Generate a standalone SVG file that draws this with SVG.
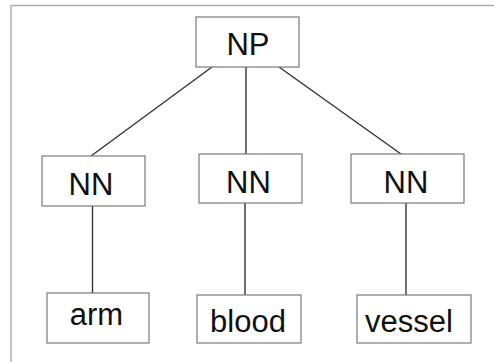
<svg xmlns="http://www.w3.org/2000/svg" width="494" height="362" viewBox="0 0 494 362">
  <style>
    .frame { fill: none; stroke: #b0b0b0; stroke-width: 1.5; }
    .box { fill: #ffffff; stroke: #7a7a7a; stroke-width: 1.2; }
    .label { font-family: "Liberation Sans", Arial, sans-serif; font-size: 31px; fill: #111; text-anchor: middle; }
    .edge { stroke: #333; stroke-width: 1.4; fill: none; }
  </style>
  <rect width="494" height="362" fill="#ffffff"/>
  <!-- open frame: top and left sides only -->
  <path class="frame" d="M11,362 V5.5 H494"/>

  <g id="connectors">
    <line class="edge" x1="212" y1="67" x2="91" y2="156"/>
    <line class="edge" x1="246" y1="67" x2="246" y2="154"/>
    <line class="edge" x1="279" y1="67" x2="401" y2="154"/>
    <line class="edge" x1="92.5" y1="206" x2="92.5" y2="293"/>
    <line class="edge" x1="245" y1="203" x2="245" y2="295"/>
    <line class="edge" x1="406" y1="203" x2="406" y2="295"/>
  </g>

  <g id="np">
    <rect class="box" x="196" y="17" width="103" height="50"/>
    <text class="label" x="248" y="55">NP</text>
  </g>
  <g id="nn-arm">
    <rect class="box" x="42" y="156" width="103" height="50"/>
    <text class="label" x="91" y="195">NN</text>
  </g>
  <g id="nn-blood">
    <rect class="box" x="199" y="154" width="103" height="49"/>
    <text class="label" x="248.5" y="193">NN</text>
  </g>
  <g id="nn-vessel">
    <rect class="box" x="351" y="154" width="113" height="49"/>
    <text class="label" x="406" y="193">NN</text>
  </g>
  <g id="arm">
    <rect class="box" x="47" y="293" width="102" height="50"/>
    <text class="label" x="96.5" y="325">arm</text>
  </g>
  <g id="blood">
    <rect class="box" x="197" y="295" width="104" height="48"/>
    <text class="label" x="248" y="332">blood</text>
  </g>
  <g id="vessel">
    <rect class="box" x="357" y="295" width="114" height="48"/>
    <text class="label" x="409" y="332">vessel</text>
  </g>
</svg>
